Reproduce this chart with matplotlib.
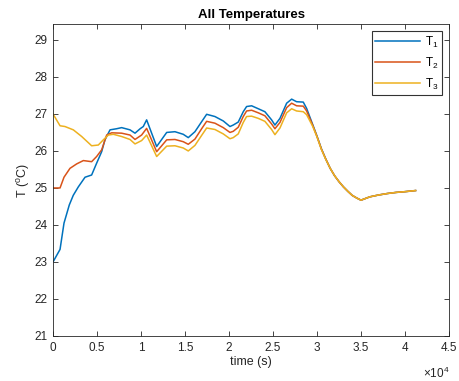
import matplotlib
matplotlib.use('Agg')
import matplotlib.pyplot as plt

plt.rcParams['font.family'] = ['Liberation Sans', 'DejaVu Sans']
plt.rcParams['mathtext.fontset'] = 'custom'
plt.rcParams['mathtext.rm'] = 'Liberation Sans'
plt.rcParams['mathtext.it'] = 'Liberation Sans'

# sensor 1
t1 = [0, 800, 1250, 1850, 2300, 2880, 3640, 4390, 4960, 5530, 5900, 6480, 7230, 7800,
      8750, 9320, 9900, 10260, 10640, 11780, 12920, 13860, 14800, 15370, 16130, 16890,
      17460, 18400, 19350, 20110, 20480, 21050, 21620, 22000, 22570, 23330, 24080,
      24840, 25220, 25790, 26550, 27120, 27680, 28440, 28820, 29500, 30000, 30500,
      31000, 31500, 32000, 32500, 33000, 33500, 34000, 34500, 35000, 36000, 37000,
      38000, 39000, 40000, 41200]
T1 = [23.0, 23.34, 24.05, 24.54, 24.8, 25.03, 25.29, 25.35, 25.67, 25.98, 26.30, 26.57,
      26.60, 26.63, 26.57, 26.48, 26.60, 26.66, 26.84, 26.12, 26.50, 26.52, 26.45, 26.36,
      26.52, 26.79, 26.99, 26.93, 26.81, 26.66, 26.70, 26.78, 27.06, 27.20, 27.22, 27.14,
      27.06, 26.84, 26.70, 26.88, 27.29, 27.40, 27.33, 27.32, 27.15, 26.72, 26.40, 26.06,
      25.78, 25.53, 25.33, 25.17, 25.03, 24.91, 24.80, 24.73, 24.67, 24.76, 24.81, 24.85,
      24.88, 24.90, 24.93]

# sensor 2
t2 = [0, 800, 1250, 1930, 2690, 3450, 4390, 4960, 5530, 6100, 6670, 7800, 8750, 9320,
      10070, 10640, 11780, 12920, 13860, 14800, 15370, 16130, 16890, 17460, 18400, 19350,
      20110, 20480, 21050, 21620, 22000, 22570, 23330, 24080, 24840, 25220, 25790, 26550,
      27120, 27680, 28440, 28820, 29500, 30000, 30500, 31000, 31500, 32000, 32500, 33000,
      33500, 34000, 34500, 35000, 36000, 37000, 38000, 39000, 40000, 41200]
T2 = [25.0, 25.0, 25.29, 25.53, 25.65, 25.74, 25.71, 25.85, 26.03, 26.43, 26.49, 26.48,
      26.43, 26.31, 26.43, 26.61, 25.98, 26.30, 26.31, 26.25, 26.18, 26.32, 26.60, 26.80,
      26.75, 26.63, 26.50, 26.53, 26.64, 26.93, 27.08, 27.10, 27.03, 26.95, 26.73, 26.60,
      26.77, 27.17, 27.29, 27.22, 27.21, 27.08, 26.70, 26.39, 26.05, 25.78, 25.53, 25.33,
      25.17, 25.03, 24.91, 24.80, 24.73, 24.67, 24.76, 24.81, 24.85, 24.88, 24.90, 24.93]

# sensor 3
t3 = [0, 800, 1360, 2310, 3260, 4390, 5150, 5720, 6290, 6860, 7800, 8750, 9320, 10070,
      10640, 11780, 12920, 13860, 14800, 15370, 16130, 16890, 17460, 18400, 19350, 20110,
      20480, 21050, 21620, 22000, 22570, 23330, 24080, 24840, 25220, 25790, 26550, 27120,
      27680, 28440, 28820, 29500, 30000, 30500, 31000, 31500, 32000, 32500, 33000, 33500,
      34000, 34500, 35000, 36000, 37000, 38000, 39000, 40000, 41200]
T3 = [27.0, 26.68, 26.66, 26.57, 26.39, 26.14, 26.16, 26.30, 26.43, 26.45, 26.39, 26.31,
      26.19, 26.28, 26.43, 25.85, 26.13, 26.14, 26.08, 26.00, 26.15, 26.42, 26.62, 26.58,
      26.46, 26.33, 26.36, 26.46, 26.77, 26.93, 26.94, 26.88, 26.80, 26.58, 26.44, 26.62,
      27.03, 27.14, 27.08, 27.06, 26.98, 26.67, 26.38, 26.04, 25.77, 25.53, 25.33, 25.17,
      25.03, 24.91, 24.80, 24.73, 24.67, 24.76, 24.81, 24.85, 24.88, 24.90, 24.93]

xticks = [0, 5000, 10000, 15000, 20000, 25000, 30000, 35000, 40000, 45000]
xticklabels = ['0', '0.5', '1', '1.5', '2', '2.5', '3', '3.5', '4', '4.5']
yticks = [21, 22, 23, 24, 25, 26, 27, 28, 29]

fig = plt.figure(figsize=(4.59, 3.81), dpi=100)
ax = fig.add_axes([53/459, 1-336/381, 396/459, 312/381])

ax.plot(t1, T1, color='#0072BD', lw=1.1, label='T$_1$')
ax.plot(t2, T2, color='#D95319', lw=1.1, label='T$_2$')
ax.plot(t3, T3, color='#EDB120', lw=1.1, label='T$_3$')

ax.set_xlim(0, 45000)
ax.set_ylim(21, 29.43)
ax.set_xticks(xticks)
ax.set_xticklabels(xticklabels)
ax.set_yticks(yticks)
ax.tick_params(direction='in', top=True, right=True, length=3.5, width=0.6,
               labelsize=8.5, colors='#262626', pad=4)
for s in ax.spines.values():
    s.set_color('#262626')
    s.set_linewidth(0.6)

ax.set_title('All Temperatures', fontsize=9.5, fontweight='bold', pad=4)
ax.set_xlabel('time (s)', fontsize=9, color='#262626', labelpad=2)
ax.set_ylabel('T ($^o$C)', fontsize=9, color='#262626', labelpad=2)
ax.text(1.0, -0.095, r'$\times10^4$', transform=ax.transAxes, ha='right', va='top',
        fontsize=8.5, color='#262626')

leg = ax.legend(loc='upper right', fontsize=8.5, frameon=True, fancybox=False,
                handlelength=3.8, borderaxespad=0.6, handletextpad=0.4,
                labelspacing=0.5, borderpad=0.3)
leg.get_frame().set_edgecolor('black')
leg.get_frame().set_linewidth(0.8)

fig.savefig('out.png', dpi=100)
